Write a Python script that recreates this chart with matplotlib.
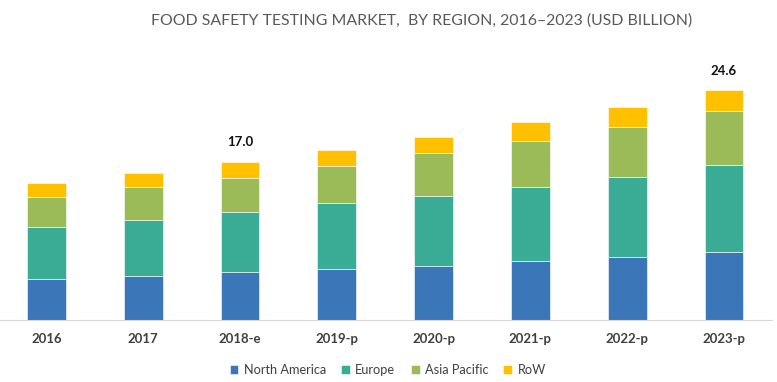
import matplotlib.pyplot as plt
import numpy as np

plt.rcParams['font.family'] = ['Lato', 'DejaVu Sans']

# Data (USD billion)
years = ['2016', '2017', '2018-e', '2019-p', '2020-p', '2021-p', '2022-p', '2023-p']
north_america = [4.44, 4.76, 5.16, 5.54, 5.86, 6.40, 6.82, 7.35]
europe = [5.53, 5.99, 6.48, 6.99, 7.45, 7.91, 8.56, 9.25]
asia_pacific = [3.21, 3.56, 3.60, 3.99, 4.57, 4.89, 5.35, 5.76]
row = [1.50, 1.50, 1.76, 1.72, 1.71, 2.00, 2.07, 2.24]
labels = {2: '17.0', 7: '24.6'}

series = [('North America', north_america, '#3a76b8'),
          ('Europe', europe, '#3aab95'),
          ('Asia Pacific', asia_pacific, '#9bbb59'),
          ('RoW', row, '#ffc000')]

fig = plt.figure(figsize=(7.77, 3.82), dpi=100)
ax = fig.add_axes([0.0, 0.161, 0.994, 0.682])

x = np.arange(len(years))
bottom = np.zeros(len(years))
for name, vals, color in series:
    ax.bar(x, vals, 0.4, bottom=bottom, color=color, label=name,
           edgecolor='white', linewidth=0.4)
    bottom += np.array(vals)

for i, txt in labels.items():
    ax.text(x[i], bottom[i] + 2.1, txt, ha='center', va='center',
            fontsize=9.5, fontweight='bold', color='#111111')

ax.set_xlim(-0.48, 7.5)
ax.set_ylim(0, 27.86)
ax.set_yticks([])
ax.set_xticks(x)
ax.set_xticklabels(years, fontsize=9.5, fontweight='bold', color='#404040')
ax.tick_params(axis='x', length=0, pad=9)
for s in ['top', 'right', 'left']:
    ax.spines[s].set_visible(False)
ax.spines['bottom'].set_color('#d9d9d9')

fig.text(0.543, 0.945, 'FOOD SAFETY TESTING MARKET,  BY REGION, 2016\u20132023 (USD BILLION)',
         ha='center', va='center', fontsize=11.4, color='#595959')

fig.legend(loc='center', bbox_to_anchor=(0.499, 0.032), ncol=4, frameon=False,
           fontsize=9.2, handlelength=0.7, handleheight=0.7, handletextpad=0.4,
           columnspacing=1.2, labelcolor='#404040')

fig.savefig('out.png')
